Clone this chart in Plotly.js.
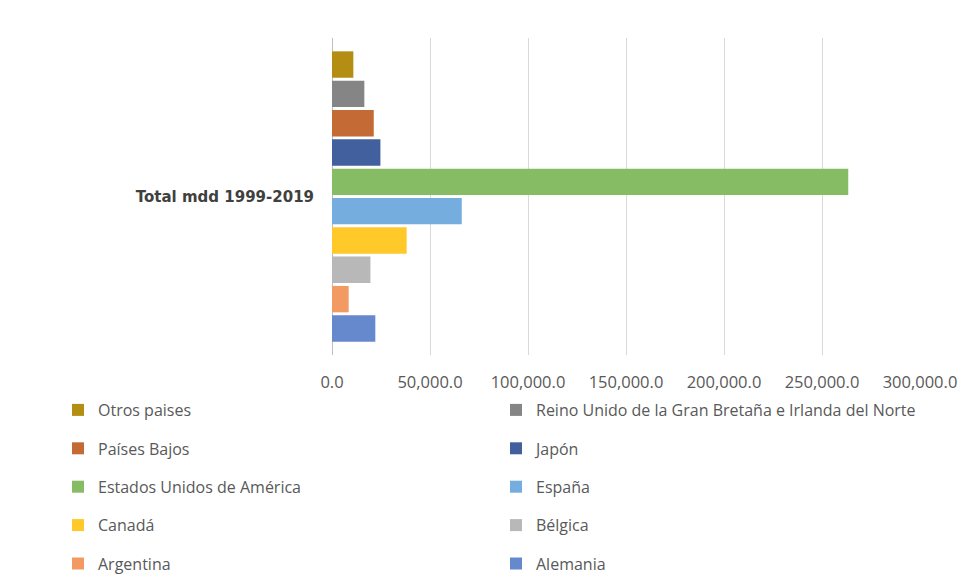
<!DOCTYPE html>
<html>
<head>
<meta charset="utf-8">
<script src="https://cdn.plot.ly/plotly-3.0.1.min.js"></script>
<style>html,body{margin:0;padding:0;background:#fff;}#chart{width:961px;height:577px;}</style>
</head>
<body>
<div id="chart"></div>
<script>
// Data (bottom-to-top order in the chart)
const category = ["Total mdd 1999-2019"];
const countries = ["Alemania", "Argentina", "Bélgica", "Canadá", "España",
  "Estados Unidos de América", "Japón", "Países Bajos",
  "Reino Unido de la Gran Bretaña e Irlanda del Norte", "Otros paises"];
const values = [22100, 8500, 19600, 38100, 66200, 263400, 24700, 21300, 16500, 10900];
const colors = ["#6688CC", "#F29A62", "#B8B8B8", "#FFC92A", "#75ADDF",
  "#86BC63", "#42609E", "#C46A35", "#858585", "#B38E12"];
const legendColumn = ["legend2", "legend", "legend2", "legend", "legend2",
  "legend", "legend2", "legend", "legend2", "legend"];

const traces = countries.map((name, i) => ({
  type: "bar",
  orientation: "h",
  name: name,
  y: category,
  x: [values[i]],
  marker: {color: colors[i], line: {width: 0}},
  legend: legendColumn[i],
  legendgroup: "g" + i,
  legendrank: 100 - i,
  hoverinfo: "x+name"
}));

const legendFont = {family: "Open Sans, sans-serif", size: 16, color: "#595959"};
const layout = {
  width: 961, height: 577,
  paper_bgcolor: "#ffffff", plot_bgcolor: "#ffffff",
  margin: {l: 332, r: 41, t: 38, b: 222, autoexpand: false},
  barmode: "group",
  bargap: 0.075,
  bargroupgap: 0.1,
  xaxis: {
    range: [0, 300000],
    tickvals: [0, 50000, 100000, 150000, 200000, 250000, 300000],
    tickformat: ",.1f",
    tickangle: 0,
    showgrid: true, gridcolor: "#D9D9D9", gridwidth: 1,
    zeroline: true, zerolinecolor: "#BFBFBF", zerolinewidth: 1,
    showline: false,
    ticks: "outside", ticklen: 12, tickcolor: "rgba(0,0,0,0)",
    tickfont: {family: "Open Sans, sans-serif", size: 16.5, color: "#595959"},
    fixedrange: true
  },
  yaxis: {
    type: "category",
    showgrid: false, zeroline: false, showline: false,
    ticks: "outside", ticklen: 14, tickcolor: "rgba(0,0,0,0)",
    tickfont: {family: "DejaVu Sans, sans-serif", size: 15, color: "#404040", weight: "bold"},
    fixedrange: true
  },
  showlegend: true,
  legend: {
    xref: "container", yref: "container",
    x: 58 / 961, xanchor: "left",
    y: 1 - 393 / 577, yanchor: "top",
    orientation: "v",
    traceorder: "grouped",
    tracegroupgap: 14.6,
    font: legendFont,
    bgcolor: "rgba(0,0,0,0)"
  },
  legend2: {
    xref: "container", yref: "container",
    x: 496 / 961, xanchor: "left",
    y: 1 - 393 / 577, yanchor: "top",
    orientation: "v",
    traceorder: "grouped",
    tracegroupgap: 14.6,
    font: legendFont,
    bgcolor: "rgba(0,0,0,0)"
  }
};

Plotly.newPlot("chart", traces, layout, {displayModeBar: false, staticPlot: true});
</script>
</body>
</html>
